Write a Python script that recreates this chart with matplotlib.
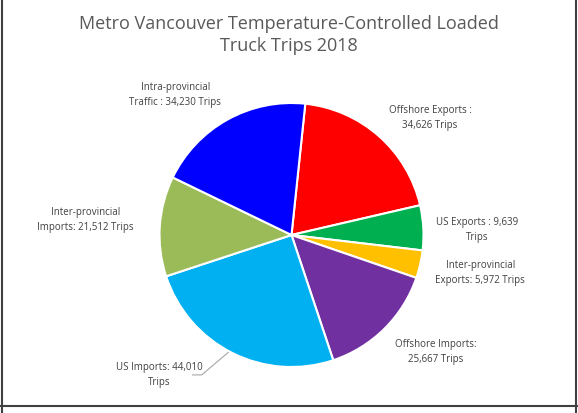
import matplotlib.pyplot as plt
from matplotlib.lines import Line2D

categories = ["Offshore Exports", "US Exports", "Inter-provincial Exports",
              "Offshore Imports", "US Imports", "Inter-provincial Imports",
              "Intra-provincial Traffic"]
trips = [34626, 9639, 5972, 25667, 44010, 21512, 34230]
colors = ["#FF0000", "#00B050", "#FFC000", "#7030A0", "#00B0F0", "#9BBB59", "#0000FF"]
labels = ["Offshore Exports :\n34,626 Trips", "US Exports : 9,639\nTrips",
          "Inter-provincial\nExports: 5,972 Trips", "Offshore Imports:\n25,667 Trips",
          "US Imports: 44,010\nTrips", "Inter-provincial\nImports: 21,512 Trips",
          "Intra-provincial\nTraffic : 34,230 Trips"]
label_pos = [(1.05, 0.89), (1.41, 0.04), (1.43, -0.29), (1.09, -0.89),
             (-1.0, -1.06), (-1.56, 0.11), (-0.88, 1.06)]

plt.rcParams["font.family"] = ["Open Sans", "DejaVu Sans"]

fig = plt.figure(figsize=(5.78, 4.13), dpi=100)
ax = fig.add_axes([0, 0, 1, 1])

ax.pie(trips, colors=colors, startangle=84, counterclock=False,
       wedgeprops=dict(edgecolor="white", linewidth=1.5), radius=1)

for lab, (x, y) in zip(labels, label_pos):
    ax.text(x, y, lab, ha="center", va="center", fontsize=7, color="#404040",
            linespacing=1.5)

# leader line for US Imports
ax.plot([-0.48, -0.68, -0.75], [-0.89, -1.06, -1.06], color="#A6A6A6", lw=0.8)

# map pie: center at (291.5, 235) px from top-left, radius 132 px
r_px = 132
ax.set_xlim(-291.5 / r_px, (578 - 291.5) / r_px)
ax.set_ylim(-(413 - 235) / r_px, 235 / r_px)
ax.set_aspect("auto")
ax.axis("off")

fig.text(0.5, 1 - 35 / 413, "Metro Vancouver Temperature-Controlled Loaded\nTruck Trips 2018",
         ha="center", va="center", fontsize=13, color="#595959", linespacing=1.35)

# frame
for xs, ys in [([1.5 / 578, 1.5 / 578], [0, 1]),
               ([575.5 / 578, 575.5 / 578], [0, 1]),
               ([0, 1], [7 / 413, 7 / 413])]:
    fig.add_artist(Line2D(xs, ys, color="#404040", lw=1.5, transform=fig.transFigure))

fig.savefig("out.png", dpi=100)
